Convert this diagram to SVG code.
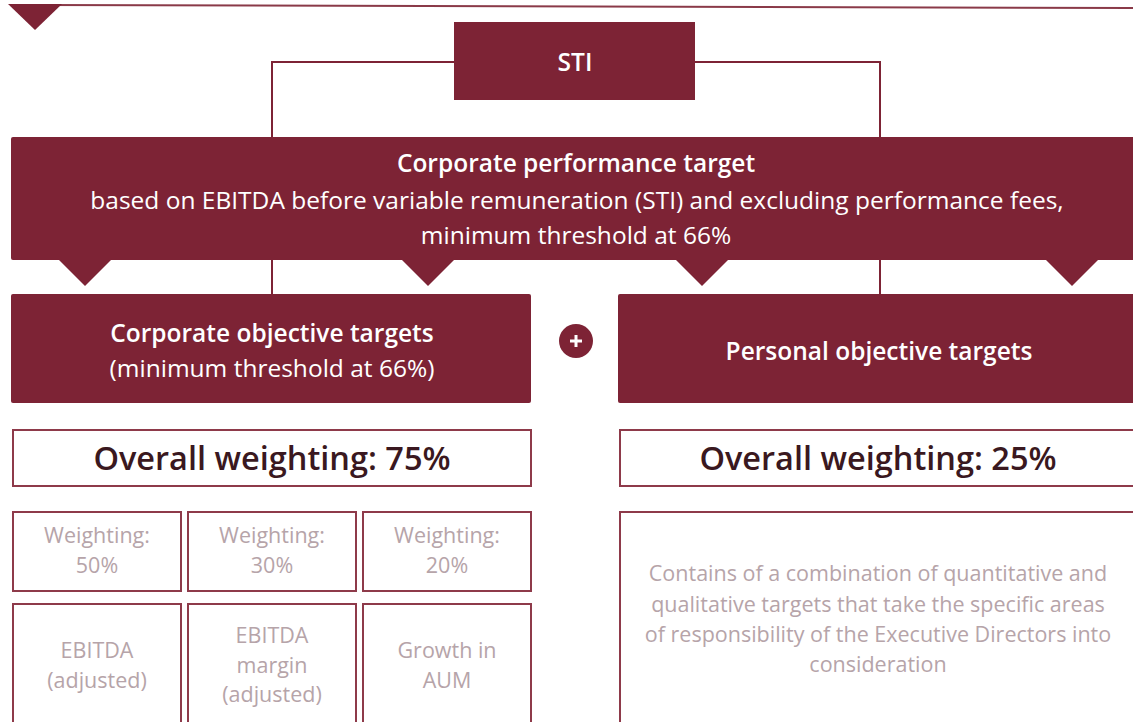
<svg xmlns="http://www.w3.org/2000/svg" width="1133" height="722" viewBox="0 0 1133 722">
  <style>
    .fill { fill: #7d2335; }
    .outline { fill: #ffffff; stroke: #8e3a4a; stroke-width: 2; }
    .wire { fill: none; stroke: #7d2335; stroke-width: 2; }
    .w { fill: #ffffff; font-family: "Open Sans", "Liberation Sans", sans-serif; text-anchor: middle; font-size: 24.5px; }
    .b { font-weight: 600; }
    .big { fill: #3a1820; font-family: "Open Sans", "Liberation Sans", sans-serif; font-size: 32.5px; font-weight: 600; text-anchor: middle; }
    .soft { fill: #b6a4a9; font-family: "Open Sans", "Liberation Sans", sans-serif; font-size: 21.5px; text-anchor: middle; }
  </style>

  <!-- header rule with pointer -->
  <g id="header">
    <line x1="40" y1="5" x2="1133" y2="8" stroke="#8a3a48" stroke-width="2"/>
    <polygon class="fill" points="8,4 62,4 35,30"/>
  </g>

  <!-- connectors -->
  <g id="connectors">
    <polyline class="wire" points="454,62 272,62 272,137"/>
    <polyline class="wire" points="695,62 880,62 880,137"/>
    <line class="wire" x1="272" y1="258" x2="272" y2="295"/>
    <line class="wire" x1="880" y1="258" x2="880" y2="295"/>
  </g>

  <g id="sti">
    <rect class="fill" x="454" y="22" width="241" height="78"/>
    <text class="w b" x="575" y="71" font-size="25.5">STI</text>
  </g>

  <g id="corporate-performance">
    <rect class="fill" x="11" y="137" width="1130" height="123" rx="2"/>
    <polygon class="fill" points="58,259 112,259 85,286"/>
    <polygon class="fill" points="401,259 455,259 428,286"/>
    <polygon class="fill" points="675,259 729,259 702,286"/>
    <polygon class="fill" points="1045,259 1099,259 1072,286"/>
    <text class="w b" x="576" y="172" font-size="25">Corporate performance target</text>
    <text class="w" x="577" y="209" font-size="25.3">based on EBITDA before variable remuneration (STI) and excluding performance fees,</text>
    <text class="w" x="576" y="244">minimum threshold at 66%</text>
  </g>

  <g id="corporate-objective">
    <rect class="fill" x="11" y="294" width="520" height="109" rx="2"/>
    <text class="w b" x="272" y="342" font-size="25">Corporate objective targets</text>
    <text class="w" x="272" y="377">(minimum threshold at 66%)</text>
  </g>

  <g id="plus">
    <circle class="fill" cx="576" cy="341" r="17"/>
    <path d="M570,341 H582 M576,335 V347" stroke="#ffffff" stroke-width="3" fill="none"/>
  </g>

  <g id="personal-objective">
    <rect class="fill" x="618" y="294" width="530" height="109" rx="2"/>
    <text class="w b" x="879" y="360" font-size="25">Personal objective targets</text>
  </g>

  <g id="weighting-75">
    <rect class="outline" x="13" y="430" width="518" height="56"/>
    <text class="big" x="272" y="470">Overall weighting: 75%</text>
  </g>

  <g id="weighting-25">
    <rect class="outline" x="620" y="430" width="530" height="56"/>
    <text class="big" x="878" y="470">Overall weighting: 25%</text>
  </g>

  <g id="weight-50">
    <rect class="outline" x="13" y="512" width="168" height="79"/>
    <text class="soft" x="97" y="543">Weighting:</text>
    <text class="soft" x="97" y="573">50%</text>
  </g>
  <g id="weight-30">
    <rect class="outline" x="188" y="512" width="168" height="79"/>
    <text class="soft" x="272" y="543">Weighting:</text>
    <text class="soft" x="272" y="573">30%</text>
  </g>
  <g id="weight-20">
    <rect class="outline" x="363" y="512" width="168" height="79"/>
    <text class="soft" x="447" y="543">Weighting:</text>
    <text class="soft" x="447" y="573">20%</text>
  </g>

  <g id="ebitda">
    <rect class="outline" x="13" y="604" width="168" height="130"/>
    <text class="soft" x="97" y="658">EBITDA</text>
    <text class="soft" x="97" y="688">(adjusted)</text>
  </g>
  <g id="ebitda-margin">
    <rect class="outline" x="188" y="604" width="168" height="130"/>
    <text class="soft" x="272" y="643">EBITDA</text>
    <text class="soft" x="272" y="673">margin</text>
    <text class="soft" x="272" y="702">(adjusted)</text>
  </g>
  <g id="aum-growth">
    <rect class="outline" x="363" y="604" width="168" height="130"/>
    <text class="soft" x="447" y="658">Growth in</text>
    <text class="soft" x="447" y="688">AUM</text>
  </g>

  <g id="personal-detail">
    <rect class="outline" x="620" y="512" width="530" height="222"/>
    <text class="soft" x="878" y="581">Contains of a combination of quantitative and</text>
    <text class="soft" x="878" y="612">qualitative targets that take the specific areas</text>
    <text class="soft" x="878" y="642">of responsibility of the Executive Directors into</text>
    <text class="soft" x="878" y="672">consideration</text>
  </g>
</svg>
